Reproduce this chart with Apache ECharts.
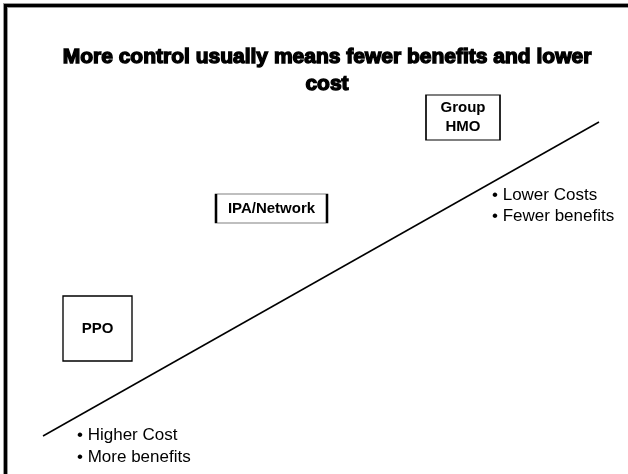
<!DOCTYPE html>
<html>
<head>
<meta charset="utf-8">
<script src="https://cdn.jsdelivr.net/npm/echarts@6/dist/echarts.min.js"></script>
<style>html,body{margin:0;padding:0;background:#fff}#c{width:628px;height:474px}</style>
</head>
<body>
<div id="c"></div>
<script>
// Title
const titleText = "More control usually means fewer benefits and lower\ncost";
// Plan boxes (label, x, y) in diagram coordinates
const planLabels = ["Group\nHMO", "IPA/Network", "PPO"];
const planX = [463, 271.5, 97.5];
const planY = [117.5, 208.5, 328.5];
// Trend line endpoints
const trendX = [43, 599];
const trendY = [436, 122];
// Bullet notes
const noteLabels = ["\u2022 Lower Costs", "\u2022 Fewer benefits", "\u2022 Higher Cost", "\u2022 More benefits"];
const noteX = [492, 492, 77, 77];
const noteY = [195, 216, 435, 457];

const boxSizes = [[74, 45], [111, 29], [69, 65]];
const font = "'Liberation Sans', Arial, sans-serif";

const chart = echarts.init(document.getElementById('c'), null, {renderer: 'canvas'});
chart.setOption({
  animation: false,
  backgroundColor: '#fff',
  title: {
    text: titleText,
    left: 322,
    top: 39,
    textAlign: 'center',
    textStyle: {
      fontFamily: font, fontWeight: 'bold', fontSize: 21, color: '#000',
      lineHeight: 27, textBorderColor: '#000', textBorderWidth: 1.4
    }
  },
  grid: {left: 0, right: 0, top: 0, bottom: 0},
  xAxis: {type: 'value', min: 0, max: 628, show: false},
  yAxis: {type: 'value', min: 0, max: 474, inverse: true, show: false},
  graphic: [
    {type: 'rect', shape: {x: 3, y: 3, width: 625, height: 5}, style: {fill: '#999'}},
    {type: 'rect', shape: {x: 3, y: 3, width: 5, height: 471}, style: {fill: '#999'}},
    {type: 'rect', shape: {x: 4, y: 4, width: 624, height: 3}, style: {fill: '#000'}},
    {type: 'rect', shape: {x: 4, y: 4, width: 3, height: 470}, style: {fill: '#000'}},
    {type: 'rect', shape: {x: 8, y: 8, width: 620, height: 466}, style: {fill: '#fff'}, z: -1}
  ],
  series: [
    {
      type: 'line',
      data: trendX.map((x, i) => [x, trendY[i]]),
      symbol: 'none',
      lineStyle: {color: '#000', width: 1.5},
      silent: true
    },
    {
      type: 'scatter',
      data: planLabels.map((l, i) => ({
        value: [planX[i], planY[i]], name: l, symbolSize: boxSizes[i]
      })),
      symbol: 'rect',
      itemStyle: {color: '#fff', borderColor: '#000', borderWidth: 1.3, opacity: 1},
      label: {
        show: true, position: 'inside', formatter: p => p.name,
        fontFamily: font, fontWeight: 'bold', fontSize: 15, color: '#000', lineHeight: 19
      },
      silent: true
    },
    {
      type: 'scatter',
      data: noteLabels.map((l, i) => ({value: [noteX[i], noteY[i]], name: l})),
      symbol: 'circle',
      symbolSize: 1,
      itemStyle: {color: 'rgba(0,0,0,0)'},
      label: {
        show: true, position: 'inside', align: 'left', verticalAlign: 'middle',
        formatter: p => p.name, opacity: 1,
        fontFamily: font, fontSize: 17, color: '#000'
      },
      silent: true
    }
  ]
});
</script>
</body>
</html>
